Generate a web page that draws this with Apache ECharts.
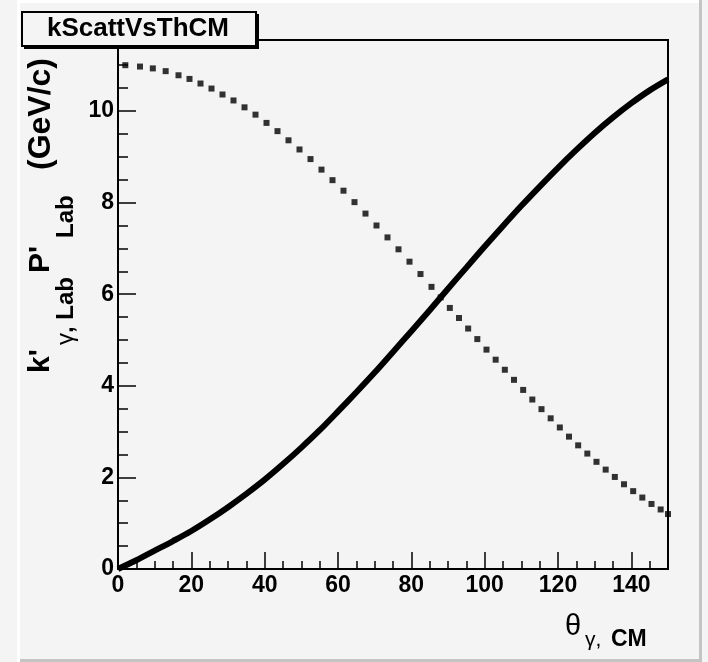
<!DOCTYPE html>
<html>
<head>
<meta charset="utf-8">
<script src="https://cdn.jsdelivr.net/npm/echarts@6/dist/echarts.min.js"></script>
<style>
html,body{margin:0;padding:0;background:#f4f4f4;}
#chart{width:708px;height:662px;}
</style>
</head>
<body>
<div id="chart"></div>
<script>
// ---- data ----
const titleText = 'kScattVsThCM';
const xTickLabels = ['0','20','40','60','80','100','120','140'];
const yTickLabels = ['0','2','4','6','8','10'];

// recoil momentum P'_Lab (solid thick curve)
const thetaRise = [0,5,10,15,20,25,30,35,40,45,50,55,60,65,70,75,80,85,90,95,100,105,110,115,120,125,130,135,140,145,150];
const pRise = [0,0.19,0.40,0.61,0.83,1.08,1.35,1.64,1.95,2.29,2.65,3.03,3.44,3.86,4.29,4.74,5.19,5.65,6.12,6.58,7.04,7.49,7.93,8.35,8.76,9.15,9.52,9.86,10.17,10.45,10.69];

// scattered photon k'_Lab (dotted curve)
const thetaFall = [2,6,9.5,13,16.5,19.5,22.5,25.5,28.5,31.5,34.5,37.5,40.5,43.5,46.5,49.5,52.5,55.5,58.5,61.5,64.5,67.5,70.5,73.5,76.5,79.5,82.5,85.5,88,90.5,93,95.5,98,100.5,103,105.5,108,110.5,113,115.5,118,120.5,123,125.5,128,130.5,133,135.5,138,140.5,143,145.5,148,150];
const kFall = [11.00,10.97,10.93,10.87,10.78,10.70,10.60,10.49,10.36,10.23,10.08,9.92,9.74,9.56,9.36,9.16,8.95,8.72,8.49,8.26,8.01,7.76,7.50,7.24,6.98,6.71,6.44,6.16,5.93,5.70,5.48,5.25,5.02,4.79,4.57,4.35,4.13,3.91,3.70,3.49,3.29,3.09,2.89,2.70,2.52,2.34,2.17,2.01,1.85,1.70,1.56,1.42,1.30,1.20];

const xMin = 0, xMax = 150, xMajor = 20, xMinor = 5;
const yMin = 0, yMax = 11.55, yMajor = 2, yMinor = 0.5;

// ---- build ----
const FF = '"Liberation Sans", Arial, Helvetica, sans-serif';
const risePts = thetaRise.map((t, i) => [t, pRise[i]]);
const fallPts = thetaFall.map((t, i) => [t, kFall[i]]);

const chart = echarts.init(document.getElementById('chart'), null, {renderer: 'canvas'});

const labelStyle = {color: '#000', fontFamily: FF, fontWeight: 'bold', fontSize: 23};

function boldTxt(txt, x, y, size) {
  return {type: 'text', x: x, y: y, style: {text: txt, fontFamily: FF, fontWeight: 'bold', fontSize: size, fill: '#000', align: 'left', verticalAlign: 'middle'}};
}

chart.setOption({
  animation: false,
  backgroundColor: '#f4f4f4',
  grid: {left: 118, right: 40, top: 40, bottom: 93, show: true, borderColor: '#000', borderWidth: 2, backgroundColor: 'transparent', containLabel: false},
  xAxis: [
    {type: 'value', min: xMin, max: xMax, interval: xMajor, position: 'bottom',
     axisLine: {show: true, onZero: false, lineStyle: {color: '#000', width: 2}},
     axisTick: {show: true, inside: true, length: 17, lineStyle: {color: '#000', width: 1.5}},
     axisLabel: Object.assign({margin: 5, showMaxLabel: false,
       formatter: v => xTickLabels.includes(String(v)) ? String(v) : ''}, labelStyle),
     splitLine: {show: false}},
    {type: 'value', min: xMin, max: xMax, interval: xMinor, position: 'bottom',
     axisLine: {show: false, onZero: false},
     axisTick: {show: true, inside: true, length: 8, lineStyle: {color: '#000', width: 1.5}},
     axisLabel: {show: false}, splitLine: {show: false}}
  ],
  yAxis: [
    {type: 'value', min: yMin, max: yMax, interval: yMajor, position: 'left',
     axisLine: {show: true, onZero: false, lineStyle: {color: '#000', width: 2}},
     axisTick: {show: true, inside: true, length: 18, lineStyle: {color: '#000', width: 1.5}},
     axisLabel: Object.assign({margin: 4, showMaxLabel: false,
       formatter: v => yTickLabels.includes(String(v)) ? String(v) : ''}, labelStyle),
     splitLine: {show: false}},
    {type: 'value', min: yMin, max: yMax, interval: yMinor, position: 'left',
     axisLine: {show: false, onZero: false},
     axisTick: {show: true, inside: true, length: 10, lineStyle: {color: '#000', width: 1.5}},
     axisLabel: {show: false}, splitLine: {show: false}}
  ],
  series: [
    {name: "P'Lab", type: 'line', xAxisIndex: 0, yAxisIndex: 0, data: risePts,
     showSymbol: false, smooth: 0.3, lineStyle: {color: '#000', width: 6}, z: 3},
    {name: "k'Lab", type: 'scatter', xAxisIndex: 0, yAxisIndex: 0, data: fallPts,
     symbol: 'rect', symbolSize: 6, itemStyle: {color: '#000'}, z: 4}
  ],
  graphic: [
    // canvas bevel
    {type: 'rect', shape: {x: 17, y: 0, width: 3, height: 662}, style: {fill: '#ffffff'}, z: 0, silent: true},
    {type: 'rect', shape: {x: 17, y: 0, width: 684, height: 3}, style: {fill: '#ffffff'}, z: 0, silent: true},
    {type: 'rect', shape: {x: 699, y: 0, width: 3, height: 662}, style: {fill: '#c4c4c4'}, z: 0, silent: true},
    {type: 'rect', shape: {x: 20, y: 659, width: 682, height: 3}, style: {fill: '#c4c4c4'}, z: 0, silent: true},
    // title box with shadow
    {type: 'rect', shape: {x: 24, y: 14, width: 235, height: 35}, style: {fill: '#000'}, z: 100, silent: true},
    {type: 'rect', shape: {x: 22, y: 12, width: 234, height: 34}, style: {fill: '#f4f4f4', stroke: '#000', lineWidth: 2}, z: 101, silent: true},
    {type: 'text', x: 138, y: 29, z: 102, silent: true,
     style: {text: titleText, fontFamily: FF, fontWeight: 'bold', fontSize: 26, fill: '#000', align: 'center', verticalAlign: 'middle'}},
    // y axis title (rotated)
    {type: 'group', x: 0, y: 375, rotation: Math.PI / 2, z: 50, silent: true, children: [
      boldTxt("k'", 2, 41, 30),
      {type: 'text', x: 30, y: 66, style: {text: 'γ', fontFamily: FF, fontSize: 24, fill: '#000', align: 'left', verticalAlign: 'middle'}},
      boldTxt(', Lab', 42, 66, 24),
      boldTxt("P'", 102, 41, 30),
      boldTxt('Lab', 137, 66, 24),
      boldTxt('(GeV/c)', 205, 41, 32)
    ]},
    // x axis title
    {type: 'text', x: 565, y: 627, z: 50, silent: true,
     style: {text: 'θ', fontFamily: FF, fontSize: 29, fill: '#000', align: 'left', verticalAlign: 'middle'}},
    {type: 'text', x: 585, y: 640, z: 50, silent: true,
     style: {text: 'γ,', fontFamily: FF, fontSize: 21, fill: '#000', align: 'left', verticalAlign: 'middle'}},
    {type: 'text', x: 611, y: 640, z: 50, silent: true,
     style: {text: 'CM', fontFamily: FF, fontWeight: 'bold', fontSize: 23, fill: '#000', align: 'left', verticalAlign: 'middle'}}
  ]
});
</script>
</body>
</html>
